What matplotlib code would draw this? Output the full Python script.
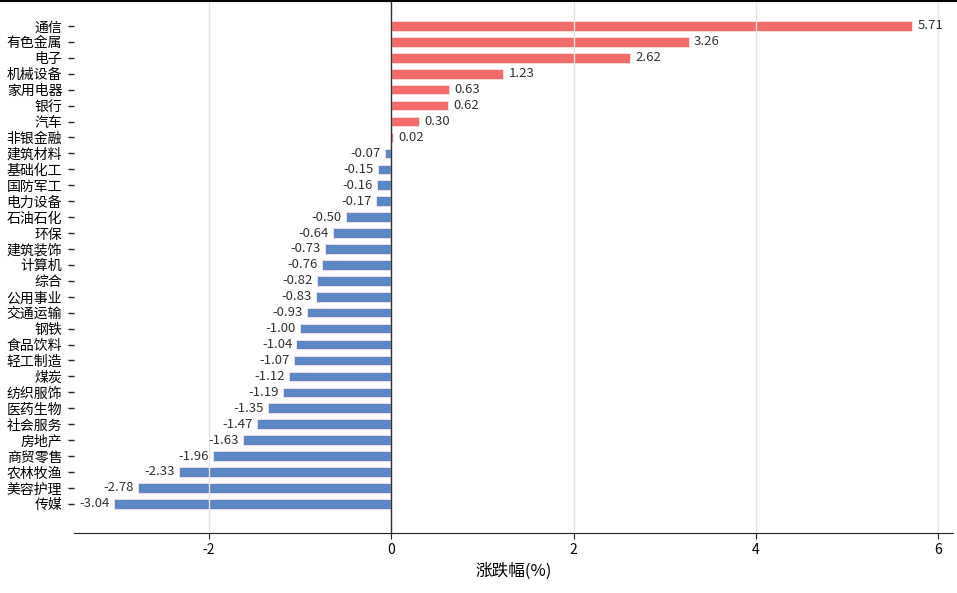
import matplotlib
matplotlib.use('Agg')
import matplotlib.pyplot as plt
from matplotlib.lines import Line2D

plt.rcParams['font.family'] = ['Noto Sans CJK SC', 'DejaVu Sans']
plt.rcParams['axes.unicode_minus'] = False

# 行业及涨跌幅(%)
industries = ['通信', '有色金属', '电子', '机械设备', '家用电器', '银行', '汽车', '非银金融',
              '建筑材料', '基础化工', '国防军工', '电力设备', '石油石化', '环保', '建筑装饰',
              '计算机', '综合', '公用事业', '交通运输', '钢铁', '食品饮料', '轻工制造', '煤炭',
              '纺织服饰', '医药生物', '社会服务', '房地产', '商贸零售', '农林牧渔', '美容护理', '传媒']
changes = [5.71, 3.26, 2.62, 1.23, 0.63, 0.62, 0.30, 0.02,
           -0.07, -0.15, -0.16, -0.17, -0.50, -0.64, -0.73,
           -0.76, -0.82, -0.83, -0.93, -1.00, -1.04, -1.07, -1.12,
           -1.19, -1.35, -1.47, -1.63, -1.96, -2.33, -2.78, -3.04]

red = '#F46B6B'
blue = '#5B87C5'
colors = [red if v >= 0 else blue for v in changes]

fig = plt.figure(figsize=(9.57, 5.93), dpi=100)
ax = fig.add_axes([74 / 957, 60 / 593, (953 - 74) / 957, 533 / 593])

ypos = list(range(len(industries)))
ax.barh(ypos, changes, height=0.6, color=colors, edgecolor='#FBE3E3', linewidth=0.6, zorder=2)

# 网格线画在柱子上面
ax.set_axisbelow(False)
ax.grid(axis='x', color='#E6E6E6', linewidth=1, zorder=3)
ax.axvline(0, color='#333333', linewidth=1, zorder=4)

for y, v in zip(ypos, changes):
    if v >= 0:
        ax.annotate(f'{v:.2f}', (v, y), xytext=(4, 0), textcoords='offset points',
                    ha='left', va='center', fontsize=9.5, color='#333333')
    else:
        ax.annotate(f'{v:.2f}', (v, y), xytext=(-3, 0), textcoords='offset points',
                    ha='right', va='center', fontsize=9.5, color='#333333')

ax.set_yticks(ypos)
ax.set_yticklabels(industries, fontsize=10)
ax.set_ylim(len(industries) - 1 + 1.83, -1.63)
ax.set_xlim(-3.48, 6.16)
ax.set_xticks([-2, 0, 2, 4, 6])
ax.tick_params(axis='x', labelsize=10, length=4, color='#222222')
ax.tick_params(axis='y', length=4.5, width=1, color='#222222', pad=4)

for s in ['top', 'right', 'left']:
    ax.spines[s].set_visible(False)
ax.spines['bottom'].set_color('#222222')

ax.set_xlabel('涨跌幅(%)', fontsize=12)

fig.add_artist(Line2D([0, 1], [0.999, 0.999], color='black', linewidth=1.5, transform=fig.transFigure))

fig.savefig('out.png', dpi=100)
